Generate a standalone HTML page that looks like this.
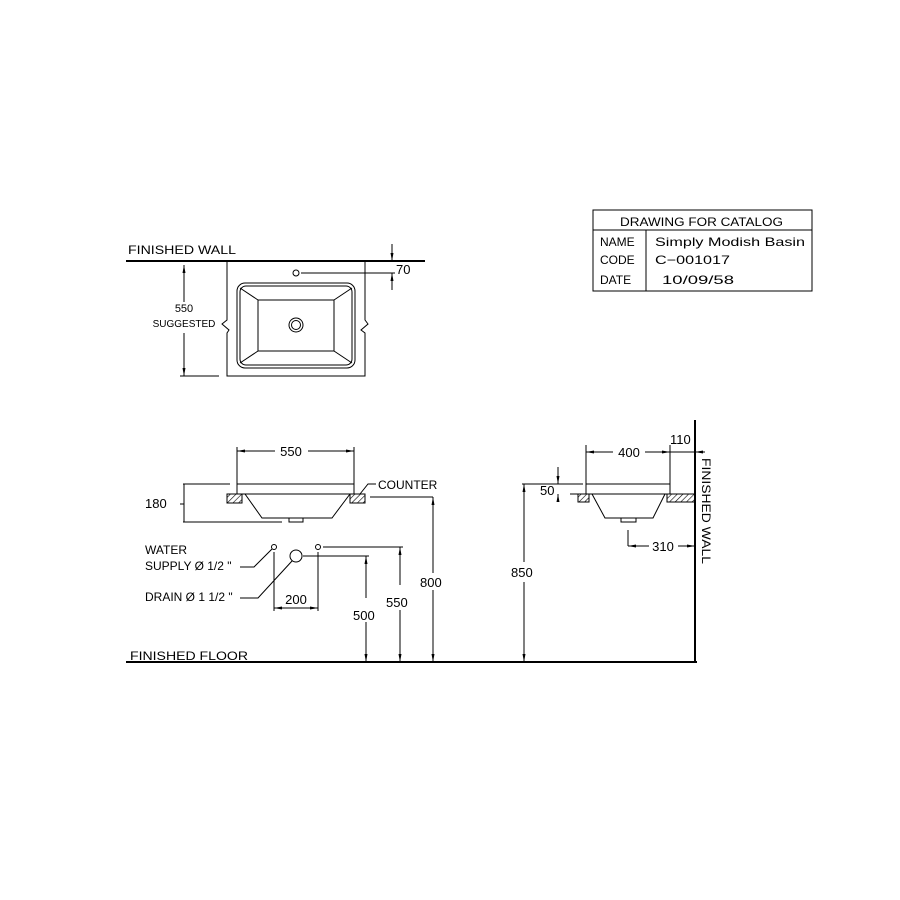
<!DOCTYPE html>
<html><head><meta charset="utf-8"><style>
html,body{margin:0;padding:0;background:#fff}
svg{display:block}
text{font-family:"Liberation Sans",sans-serif;fill:#000}
</style></head><body>
<svg width="900" height="900" viewBox="0 0 900 900" xmlns="http://www.w3.org/2000/svg">
<defs>
<pattern id="h" width="4" height="4" patternUnits="userSpaceOnUse" patternTransform="rotate(45)">
<line x1="0" y1="0" x2="0" y2="4" stroke="#000" stroke-width="1.2"/>
</pattern>
<marker id="a" markerWidth="8" markerHeight="6" refX="8" refY="3" orient="auto-start-reverse" markerUnits="userSpaceOnUse">
<path d="M0,1.5 L8,3 L0,4.5 Z" fill="#000"/>
</marker>
</defs>
<g stroke="#000" fill="none" stroke-width="1">
<rect x="593" y="210" width="219" height="81"/>
<line x1="593" y1="230" x2="812" y2="230"/>
<line x1="646" y1="230" x2="646" y2="291"/>

<line x1="126" y1="261" x2="425" y2="261" stroke-width="2"/>
<polyline points="227,261 227,320 222,324 229,330 227,333 227,376 365,376 365,333 361,330 368,324 365,320 365,261"/>
<rect x="237" y="283" width="118" height="85" rx="8"/>
<rect x="240" y="286" width="112" height="79" rx="6"/>
<rect x="258" y="300" width="76" height="51"/>
<line x1="240" y1="288" x2="258" y2="300"/><line x1="352" y1="288" x2="334" y2="300"/>
<line x1="240" y1="363" x2="258" y2="351"/><line x1="352" y1="363" x2="334" y2="351"/>
<circle cx="296" cy="325" r="7"/><circle cx="296" cy="325" r="4.5"/>
<circle cx="296" cy="273" r="3"/>
<line x1="301" y1="273" x2="395" y2="273"/>
<line x1="392" y1="244" x2="392" y2="261" marker-end="url(#a)"/>
<line x1="392" y1="290" x2="392" y2="273" marker-end="url(#a)"/>
<line x1="184" y1="265" x2="184" y2="302" marker-start="url(#a)"/>
<line x1="184" y1="333" x2="184" y2="376" marker-end="url(#a)"/>
<line x1="180" y1="376" x2="219" y2="376"/>

<line x1="237" y1="447" x2="237" y2="484"/><line x1="354" y1="447" x2="354" y2="484"/>
<line x1="237" y1="451" x2="275" y2="451" marker-start="url(#a)"/>
<line x1="308" y1="451" x2="354" y2="451" marker-end="url(#a)"/>
<line x1="183" y1="484" x2="230" y2="484"/>
<rect x="237" y="484" width="117" height="10"/>
<rect x="227" y="494" width="15" height="9" fill="url(#h)"/>
<rect x="350" y="494" width="15" height="9" fill="url(#h)"/>
<polyline points="245,494 262,518 332,518 350,494"/>
<rect x="289" y="518" width="14" height="4"/>
<line x1="183" y1="522" x2="282" y2="522"/>
<line x1="184" y1="484" x2="184" y2="522"/>
<line x1="180" y1="504" x2="184" y2="504"/>
<polyline points="360,494 368,484 376,484"/>
<line x1="370" y1="497" x2="433" y2="497"/>
<line x1="433" y1="573" x2="433" y2="497" marker-end="url(#a)"/>
<line x1="433" y1="590" x2="433" y2="662" marker-end="url(#a)"/>
<circle cx="274" cy="547" r="2.5"/><circle cx="318" cy="547" r="2.5"/>
<circle cx="296" cy="556" r="6"/>
<polyline points="272,549 254,567 240,567"/>
<polyline points="292,561 258,598 240,598"/>
<line x1="274" y1="552" x2="274" y2="611"/><line x1="318" y1="552" x2="318" y2="611"/>
<line x1="274" y1="608" x2="318" y2="608" marker-start="url(#a)" marker-end="url(#a)"/>
<line x1="323" y1="547" x2="403" y2="547"/>
<line x1="400" y1="585" x2="400" y2="547" marker-end="url(#a)"/>
<line x1="400" y1="610" x2="400" y2="662" marker-end="url(#a)"/>
<line x1="303" y1="556" x2="369" y2="556"/>
<line x1="366" y1="598" x2="366" y2="556" marker-end="url(#a)"/>
<line x1="366" y1="622" x2="366" y2="662" marker-end="url(#a)"/>
<line x1="126" y1="662" x2="697" y2="662" stroke-width="2"/>

<line x1="695" y1="420" x2="695" y2="663" stroke-width="2"/>
<line x1="586" y1="445" x2="586" y2="484"/><line x1="670" y1="445" x2="670" y2="484"/>
<line x1="586" y1="452" x2="613" y2="452" marker-start="url(#a)"/>
<line x1="645" y1="452" x2="670" y2="452" marker-end="url(#a)"/>
<line x1="670" y1="452" x2="695" y2="452"/>
<line x1="705" y1="452" x2="695" y2="452" marker-end="url(#a)"/>
<line x1="522" y1="484" x2="583" y2="484"/>
<rect x="586" y="484" width="84" height="10"/>
<rect x="578" y="494" width="11" height="8" fill="url(#h)"/>
<rect x="667" y="494" width="28" height="8" fill="url(#h)"/>
<line x1="570" y1="494" x2="583" y2="494"/>
<line x1="558" y1="467" x2="558" y2="484" marker-end="url(#a)"/>
<line x1="558" y1="502" x2="558" y2="494" marker-end="url(#a)"/>
<polyline points="592,494 605,518 653,518 665,494"/>
<rect x="621" y="518" width="15" height="4"/>
<line x1="524" y1="562" x2="524" y2="484" marker-end="url(#a)"/>
<line x1="524" y1="582" x2="524" y2="662" marker-end="url(#a)"/>
<line x1="628" y1="530" x2="628" y2="546"/>
<line x1="649" y1="546" x2="628" y2="546" marker-end="url(#a)"/>
<line x1="678" y1="546" x2="695" y2="546" marker-end="url(#a)"/>
</g>

<g font-size="12">
<text x="620" y="226" textLength="163" lengthAdjust="spacingAndGlyphs">DRAWING FOR CATALOG</text>
<text x="600" y="246">NAME</text>
<text x="600" y="264">CODE</text>
<text x="600" y="284">DATE</text>
<text x="655" y="246" textLength="150" lengthAdjust="spacingAndGlyphs">Simply Modish Basin</text>
<text x="655" y="264" textLength="75" lengthAdjust="spacingAndGlyphs">C−001017</text>
<text x="662" y="284" textLength="72" lengthAdjust="spacingAndGlyphs">10/09/58</text>
<text x="128" y="254" textLength="108" lengthAdjust="spacingAndGlyphs">FINISHED  WALL</text>
<text x="396" y="274" font-size="13">70</text>
<text x="184" y="312" text-anchor="middle" font-size="11">550</text>
<text x="184" y="327" text-anchor="middle" font-size="10">SUGGESTED</text>
<text x="291" y="456" text-anchor="middle" font-size="13">550</text>
<text x="145" y="508" font-size="13">180</text>
<text x="378" y="489" font-size="12">COUNTER</text>
<text x="145" y="554" font-size="12">WATER</text>
<text x="145" y="570" font-size="12">SUPPLY Ø 1/2 "</text>
<text x="145" y="601" font-size="12">DRAIN Ø 1 1/2 "</text>
<text x="296" y="604" text-anchor="middle" font-size="13">200</text>
<text x="420" y="587" font-size="13">800</text>
<text x="386" y="607" font-size="13">550</text>
<text x="353" y="620" font-size="13">500</text>
<text x="130" y="660" textLength="118" lengthAdjust="spacingAndGlyphs">FINISHED  FLOOR</text>
<text x="629" y="457" text-anchor="middle" font-size="13">400</text>
<text x="670" y="444" font-size="13">110</text>
<text x="540" y="495" font-size="13">50</text>
<text x="511" y="577" font-size="13">850</text>
<text x="663" y="551" text-anchor="middle" font-size="13">310</text>
<text transform="translate(702,458) rotate(90)" font-size="12" textLength="106" lengthAdjust="spacingAndGlyphs">FINISHED  WALL</text>
</g>
</svg>
</body></html>
